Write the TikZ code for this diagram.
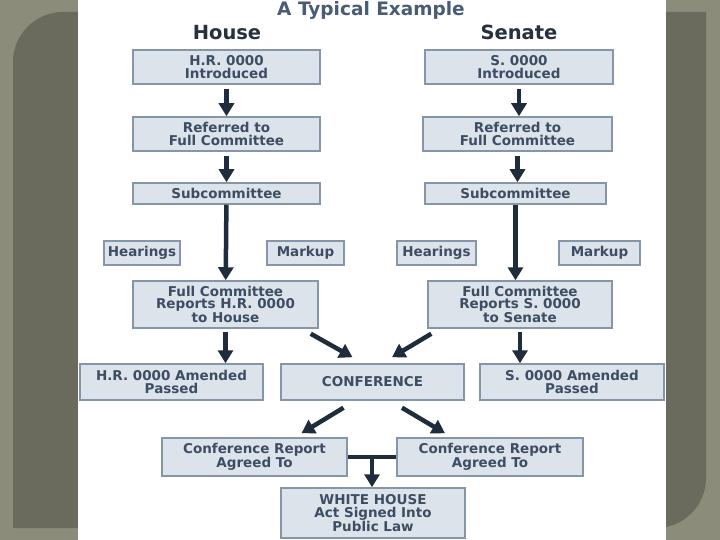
\documentclass[tikz,border=0pt]{standalone}
\usepackage{fontspec}
\setmainfont{DejaVu Sans}
\usepackage{tikz}
\usetikzlibrary{arrows.meta}

\definecolor{outerbg}{HTML}{8B8C7A}
\definecolor{innerbg}{HTML}{6B6B5D}
\definecolor{boxfill}{HTML}{DDE3EA}
\definecolor{boxedge}{HTML}{8596A8}
\definecolor{boxtext}{HTML}{3D4D63}
\definecolor{arrowcol}{HTML}{1F2C3B}
\definecolor{titleblue}{HTML}{4A5C74}
\definecolor{headcol}{HTML}{27303D}

\begin{document}
\begin{tikzpicture}[x=1pt, y=-1pt, every node/.style={font=\fontsize{13.5}{12.5}\selectfont\bfseries, text=boxtext}, align=center]
    % Define styles for the boxes and arrows
    \tikzstyle{stage} = [rectangle, inner sep=0pt, text centered, draw=boxedge, line width=1.5pt, fill=boxfill]
    \tikzstyle{heading} = [anchor=base, font=\fontsize{19.5}{19.5}\selectfont\bfseries, text=headcol]
    \tikzstyle{arrow} = [line width=4.5pt, draw=arrowcol, -{Triangle[width=15pt,length=13pt]}]
    \tikzstyle{link} = [line width=4.5pt, draw=arrowcol]

    % Slide background and white panel
    \useasboundingbox (0,0) rectangle (720,540);
    \fill[outerbg] (0,0) rectangle (720,540);
    \fill[innerbg] (13,528) [rounded corners=50pt] -- (13,12) [sharp corners] -- (706,12) [rounded corners=50pt] -- (706,528) [sharp corners] -- cycle;
    \fill[white] (78,0) rectangle (666,540);

    % Titles
    \node (title) at (371,15.5) [anchor=base, font=\fontsize{18.5}{18.5}\selectfont\bfseries, text=titleblue] {A Typical Example};
    \node (house) at (227,40) [heading] {House};
    \node (senate) at (519,40) [heading] {Senate};

    % House column
    \node (hrintro) [stage, minimum width=187pt, minimum height=34pt] at (226.5,67) {H.R. 0000\\Introduced};
    \node (hrref) [stage, minimum width=187pt, minimum height=34pt] at (226.5,134) {Referred to\\Full Committee};
    \node (hrsub) [stage, minimum width=187pt, minimum height=21pt] at (226.5,193.5) {Subcommittee};
    \node (hhear) [stage, minimum width=76pt, minimum height=24pt] at (142,253) {Hearings};
    \node (hmark) [stage, minimum width=77pt, minimum height=24pt] at (305.5,253) {Markup};
    \node (hrfull) [stage, minimum width=185pt, minimum height=47pt] at (225.5,304.5) {Full Committee\\Reports H.R. 0000\\to House};
    \node (hrpass) [stage, minimum width=183pt, minimum height=36pt] at (171.5,382) {H.R. 0000 Amended\\Passed};

    % Senate column
    \node (sintro) [stage, minimum width=188pt, minimum height=34pt] at (519,67) {S. 0000\\Introduced};
    \node (sref) [stage, minimum width=189pt, minimum height=34pt] at (517.5,134) {Referred to\\Full Committee};
    \node (ssub) [stage, minimum width=181pt, minimum height=21pt] at (515.5,193.5) {Subcommittee};
    \node (shear) [stage, minimum width=79pt, minimum height=24pt] at (436.5,253) {Hearings};
    \node (smark) [stage, minimum width=81pt, minimum height=24pt] at (599.5,253) {Markup};
    \node (sfull) [stage, minimum width=184pt, minimum height=47pt] at (520,304.5) {Full Committee\\Reports S. 0000\\to Senate};
    \node (spass) [stage, minimum width=184pt, minimum height=36pt] at (572,382) {S. 0000 Amended\\Passed};

    % Conference and final steps
    \node (conf) [stage, minimum width=183pt, minimum height=36pt] at (372.5,382) {CONFERENCE};
    \node (crleft) [stage, minimum width=185pt, minimum height=38pt] at (254.5,457) {Conference Report\\Agreed To};
    \node (crright) [stage, minimum width=186pt, minimum height=38pt] at (490,457) {Conference Report\\Agreed To};
    \node (white) [stage, minimum width=184pt, minimum height=50pt] at (373,513) {WHITE HOUSE\\Act Signed Into\\Public Law};

    % Draw arrows down each column
    \draw [arrow, shorten <=4pt] (hrintro) -- (hrref);
    \draw [arrow, shorten <=4pt] (hrref) -- (hrsub);
    \draw [arrow] (hrsub) -- (hrfull);
    \draw [arrow, shorten <=3pt] (hrfull) -- (hrfull |- hrpass.north);
    \draw [arrow, shorten <=4pt] (sintro) -- (sintro |- sref.north);
    \draw [arrow, shorten <=4pt] (sref) -- (sref |- ssub.north);
    \draw [arrow] (ssub) -- (ssub |- sfull.north);
    \draw [arrow, shorten <=3pt] (sfull) -- (sfull |- spass.north);

    % Into and out of conference
    \draw [arrow] ([shift={(-8,5)}]hrfull.south east) -- ([shift={(-20,-6)}]conf.north);
    \draw [arrow] ([shift={(4,5)}]sfull.south west) -- ([shift={(19.5,-6)}]conf.north);
    \draw [arrow] ([shift={(-29,7)}]conf.south) -- ([shift={(47,-4)}]crleft.north);
    \draw [arrow] ([shift={(29.5,7)}]conf.south) -- ([shift={(-45,-4)}]crright.north);

    % Joined reports go to the White House
    \draw [link] (crleft.east) -- coordinate[pos=0.5] (merge) (crright.west);
    \draw [arrow] (merge) -- (merge |- white.north);

\end{tikzpicture}
\end{document}
